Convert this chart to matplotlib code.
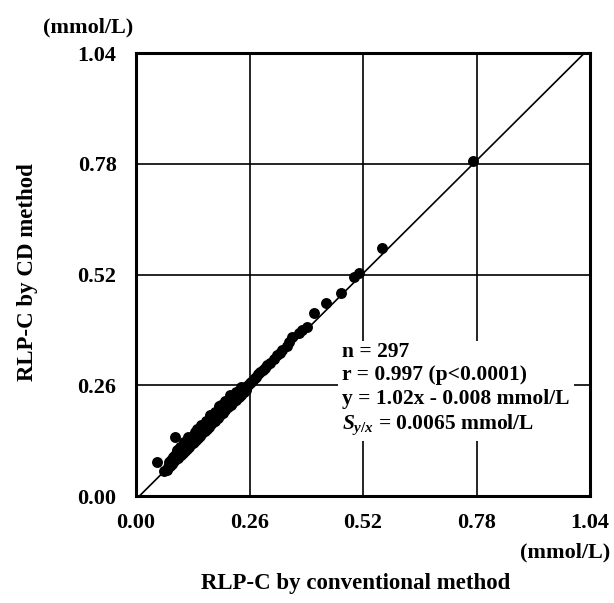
import matplotlib
matplotlib.use("Agg")
import matplotlib.pyplot as plt
import numpy as np

plt.rcParams['font.family'] = ['Liberation Serif', 'DejaVu Serif']
plt.rcParams['font.weight'] = 'bold'
plt.rcParams['mathtext.fontset'] = 'custom'
plt.rcParams['mathtext.it'] = 'Liberation Serif:italic:bold'
plt.rcParams['mathtext.rm'] = 'Liberation Serif:bold'

# RLP-C values (mmol/L): conventional method (x) vs CD method (y)
conv = [0.048, 0.089, 0.065, 0.070, 0.073, 0.075, 0.078, 0.080, 0.083, 0.085,
        0.088, 0.090, 0.092, 0.095, 0.097, 0.100, 0.102, 0.105, 0.107, 0.110,
        0.112, 0.115, 0.117, 0.120, 0.122, 0.125, 0.127, 0.130, 0.132, 0.135,
        0.137, 0.140, 0.142, 0.145, 0.147, 0.150, 0.152, 0.155, 0.157, 0.160,
        0.162, 0.165, 0.167, 0.170, 0.172, 0.175, 0.177, 0.180, 0.182, 0.185,
        0.187, 0.190, 0.193, 0.196, 0.199, 0.202, 0.205, 0.208, 0.211, 0.214,
        0.217, 0.220, 0.223, 0.226, 0.229, 0.232, 0.235, 0.238, 0.241, 0.244,
        0.247, 0.250, 0.253, 0.256, 0.260, 0.264, 0.268, 0.272, 0.276, 0.290,
        0.299, 0.306, 0.322, 0.335, 0.351, 0.358, 0.374, 0.392, 0.408, 0.436,
        0.470, 0.499, 0.511, 0.563, 0.771,
        0.095, 0.110, 0.135, 0.150, 0.160, 0.182, 0.195, 0.205, 0.228, 0.280,
        0.285, 0.295, 0.315, 0.330, 0.345, 0.380,
        0.100, 0.120, 0.140, 0.170, 0.190, 0.215, 0.240, 0.130, 0.180, 0.220]
cd = [0.080, 0.138, 0.058, 0.062, 0.068, 0.080, 0.071, 0.085, 0.076, 0.092,
      0.082, 0.097, 0.086, 0.102, 0.090, 0.106, 0.096, 0.114, 0.100, 0.120,
      0.106, 0.124, 0.110, 0.130, 0.116, 0.134, 0.121, 0.140, 0.126, 0.144,
      0.131, 0.150, 0.137, 0.154, 0.141, 0.160, 0.147, 0.164, 0.152, 0.172,
      0.157, 0.176, 0.162, 0.182, 0.168, 0.188, 0.173, 0.194, 0.178, 0.198,
      0.184, 0.204, 0.190, 0.210, 0.196, 0.214, 0.202, 0.220, 0.208, 0.226,
      0.214, 0.230, 0.220, 0.236, 0.226, 0.240, 0.232, 0.246, 0.238, 0.250,
      0.244, 0.256, 0.250, 0.260, 0.265, 0.268, 0.272, 0.276, 0.279, 0.296,
      0.307, 0.312, 0.331, 0.343, 0.362, 0.373, 0.382, 0.397, 0.430, 0.453,
      0.477, 0.514, 0.524, 0.582, 0.787,
      0.108, 0.126, 0.150, 0.166, 0.176, 0.198, 0.214, 0.224, 0.244, 0.286,
      0.292, 0.300, 0.322, 0.336, 0.352, 0.389,
      0.115, 0.138, 0.158, 0.190, 0.212, 0.236, 0.256, 0.124, 0.175, 0.218]

ticks = [0.00, 0.26, 0.52, 0.78, 1.04]
tick_labels = ['0.00', '0.26', '0.52', '0.78', '1.04']

slope, intercept = 1.02, -0.008
stats_lines = ['n = 297', 'r = 0.997 (p<0.0001)', 'y = 1.02x - 0.008 mmol/L',
               r'$S_{y/x}$ = 0.0065 mmol/L']

fig = plt.figure(figsize=(6.14, 6.03), dpi=100)
ax = fig.add_axes([136 / 614, 1 - 496 / 603, 454 / 614, 443 / 603])

ax.set_xlim(0, 1.04)
ax.set_ylim(0, 1.04)
ax.set_xticks(ticks)
ax.set_yticks(ticks)
ax.set_xticklabels(tick_labels)
ax.set_yticklabels(tick_labels)
ax.tick_params(length=0, labelsize=16, pad=14)
ax.tick_params(axis='x', pad=12)
ax.grid(True, color='black', linewidth=1.2)
ax.set_axisbelow(True)
for sp in ax.spines.values():
    sp.set_linewidth(2.2)

# regression line
xl = np.array([0, 1.04])
ax.plot(xl, slope * xl + intercept, color='black', linewidth=1.2, zorder=2)
ax.scatter(conv, cd, s=62, color='black', zorder=3, linewidths=0)

# stats block sits on a white patch that breaks the grid lines
ax.text(0.454, (496 - 342) / 443, '\n'.join(stats_lines), transform=ax.transAxes,
        fontsize=15.5, va='top', ha='left', linespacing=1.22, zorder=4,
        bbox=dict(facecolor='white', edgecolor='none', pad=3))

fig.text(43 / 614, 1 - 27 / 603, '(mmol/L)', fontsize=16, va='center', ha='left')
fig.text(610 / 614, 1 - 552 / 603, '(mmol/L)', fontsize=16, va='center', ha='right')
fig.text(356 / 614, 1 - 583 / 603, 'RLP-C by conventional method', fontsize=16.5,
         va='center', ha='center')
fig.text(28 / 614, 1 - 272 / 603, 'RLP-C by CD method', fontsize=16.5,
         va='center', ha='center', rotation=90)

fig.savefig('out.png', dpi=100)
